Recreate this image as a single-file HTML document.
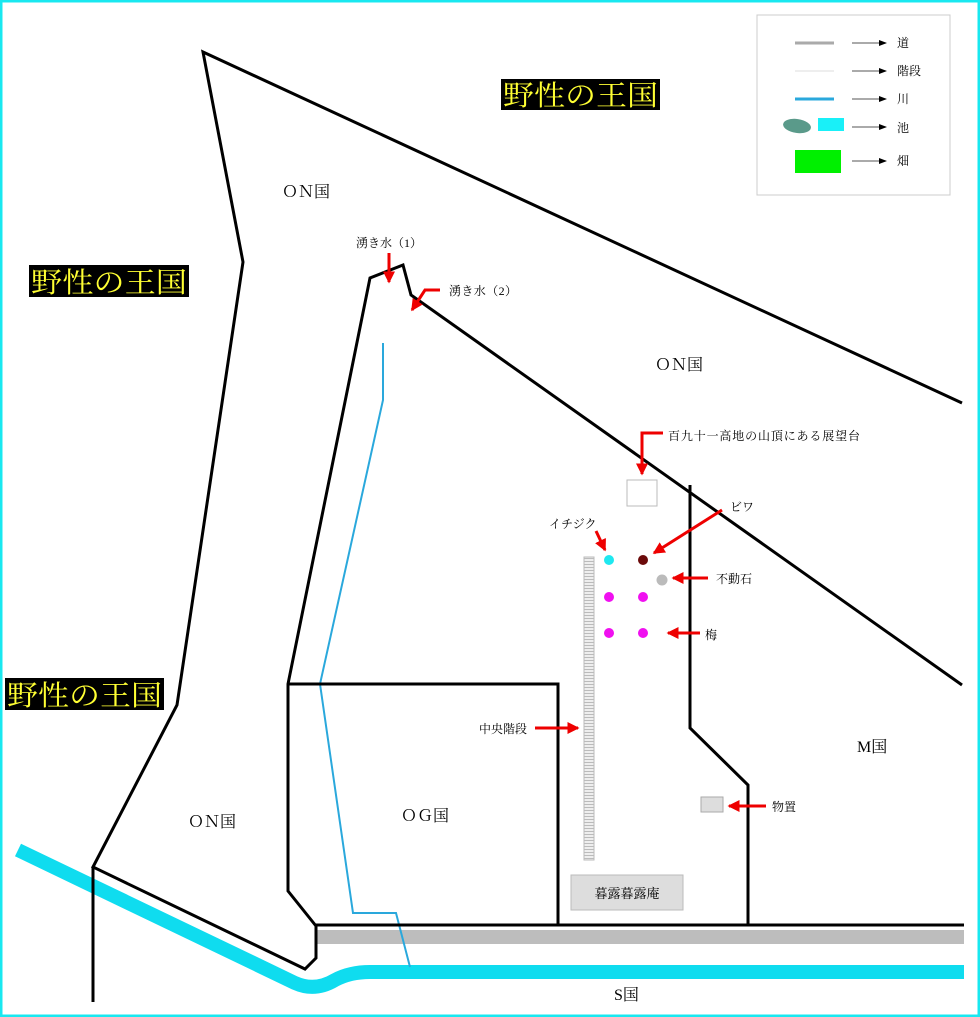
<!DOCTYPE html>
<html><head><meta charset="utf-8"><style>
html,body{margin:0;padding:0;background:#fff}
svg{display:block}
text{font-family:"Liberation Serif","Noto Serif CJK SC","Noto Sans CJK JP",serif;fill:#000}
.w{font-size:28px;fill:#ffff33}
.s{font-size:12px}
.m{font-size:16px}
</style></head><body>
<svg width="980" height="1017" viewBox="0 0 980 1017" xmlns="http://www.w3.org/2000/svg">
<defs>
<marker id="ra" markerWidth="4" markerHeight="4" refX="3.5" refY="2" orient="auto" markerUnits="strokeWidth"><path d="M0,0 L4,2 L0,4 z" fill="#e00"/></marker>
<marker id="ka" markerWidth="8" markerHeight="6" refX="7" refY="3" orient="auto" markerUnits="userSpaceOnUse"><path d="M0,0 L8,3 L0,6 z" fill="#000"/></marker>
<pattern id="st" width="10" height="3" patternUnits="userSpaceOnUse"><rect width="10" height="3" fill="#eee"/><rect width="10" height="1" fill="#bbb"/></pattern>
</defs>
<rect x="1" y="1" width="978" height="1015" fill="none" stroke="#19e8f0" stroke-width="3"/>

<rect x="316" y="930" width="648" height="14" fill="#bdbdbd"/>
<path d="M18,850 L295,983 Q315,992 335,980 Q350,972 370,972 L964,972" fill="none" stroke="#0fdcef" stroke-width="14"/>
<polyline points="383,343 383,400 320,684 353,913 396,913 410,967" fill="none" stroke="#2aa8dc" stroke-width="2"/>

<g fill="none" stroke="#000" stroke-width="3" stroke-linejoin="miter">
<polyline points="962,403 203,52 243,262 177,705 93,867 305,969 316,958 316,926 288,891 288,684 370,278 403,265 411,295 962,685"/>
<line x1="93" y1="867" x2="93" y2="1002"/>
<polyline points="288,684 558,684 558,925"/>
<polyline points="690,485 690,728 748,785 748,925"/>
<line x1="316" y1="925" x2="964" y2="925"/>
</g>

<rect x="584" y="557" width="10" height="303" fill="url(#st)" stroke="#bbb" stroke-width="1"/>
<rect x="571" y="875" width="112" height="35" fill="#ddd" stroke="#bbb"/>
<text x="627" y="898" class="s" text-anchor="middle" style="font-size:13px">暮露暮露庵</text>
<rect x="701" y="797" width="22" height="15" fill="#ddd" stroke="#aaa"/>
<rect x="627" y="480" width="30" height="26" fill="#fff" stroke="#bbb"/>

<circle cx="609" cy="560" r="5" fill="#1ee8f0"/>
<circle cx="643" cy="560" r="5" fill="#6b0a0a"/>
<circle cx="662" cy="580" r="5.5" fill="#bbb"/>
<circle cx="609" cy="597" r="5" fill="#f010f0"/>
<circle cx="643" cy="597" r="5" fill="#f010f0"/>
<circle cx="609" cy="633" r="5" fill="#f010f0"/>
<circle cx="643" cy="633" r="5" fill="#f010f0"/>

<g fill="none" stroke="#e00" stroke-width="3" marker-end="url(#ra)">
<line x1="389" y1="253" x2="389" y2="282"/>
<polyline points="440,290 425,290 412,310"/>
<polyline points="663,433 642,433 642,474"/>
<line x1="722" y1="510" x2="654" y2="553"/>
<line x1="596" y1="531" x2="605" y2="550"/>
<line x1="708" y1="578" x2="673" y2="578"/>
<line x1="700" y1="633" x2="668" y2="633"/>
<line x1="535" y1="728" x2="578" y2="728"/>
<line x1="766" y1="806" x2="729" y2="806"/>
</g>

<rect x="501" y="79" width="159" height="31" fill="#000"/>
<text x="503" y="105" class="w" textLength="155" lengthAdjust="spacingAndGlyphs">野性の王国</text>
<rect x="29" y="265" width="160" height="32" fill="#000"/>
<text x="31" y="292" class="w" textLength="156" lengthAdjust="spacingAndGlyphs">野性の王国</text>
<rect x="5" y="678" width="159" height="32" fill="#000"/>
<text x="7" y="705" class="w" textLength="155" lengthAdjust="spacingAndGlyphs">野性の王国</text>

<text x="282" y="197" class="m">ＯＮ国</text>
<text x="655" y="370" class="m">ＯＮ国</text>
<text x="188" y="827" class="m">ＯＮ国</text>
<text x="401" y="821" class="m">ＯＧ国</text>
<text x="857" y="752" class="m">M国</text>
<text x="614" y="1000" class="m">S国</text>

<text x="356" y="247" class="s" textLength="66">湧き水（1）</text>
<text x="449" y="295" class="s" textLength="68">湧き水（2）</text>
<text x="668" y="440" class="s" textLength="192">百九十一高地の山頂にある展望台</text>
<text x="730" y="511" class="s">ビワ</text>
<text x="549" y="528" class="s">イチジク</text>
<text x="716" y="583" class="s">不動石</text>
<text x="705" y="639" class="s">梅</text>
<text x="479" y="733" class="s">中央階段</text>
<text x="772" y="811" class="s">物置</text>

<rect x="757" y="15" width="193" height="180" fill="#fff" stroke="#ccc"/>
<g stroke-width="1" stroke="#555" marker-end="url(#ka)">
<line x1="852" y1="43" x2="886" y2="43"/>
<line x1="852" y1="71" x2="886" y2="71"/>
<line x1="852" y1="99" x2="886" y2="99"/>
<line x1="852" y1="127" x2="886" y2="127"/>
<line x1="852" y1="161" x2="886" y2="161"/>
</g>
<line x1="795" y1="43" x2="834" y2="43" stroke="#aaa" stroke-width="3"/>
<line x1="795" y1="71" x2="834" y2="71" stroke="#ddd" stroke-width="1"/>
<line x1="795" y1="99" x2="834" y2="99" stroke="#2aa8dc" stroke-width="3"/>
<ellipse cx="797" cy="126" rx="14" ry="7" fill="#5a9a8a" transform="rotate(8 797 126)"/>
<rect x="818" y="118" width="26" height="13" fill="#19f0f8"/>
<rect x="795" y="150" width="46" height="23" fill="#00f000"/>
<text x="897" y="47" class="s">道</text>
<text x="897" y="75" class="s">階段</text>
<text x="897" y="103" class="s">川</text>
<text x="897" y="132" class="s">池</text>
<text x="897" y="165" class="s">畑</text>
</svg>
</body></html>
